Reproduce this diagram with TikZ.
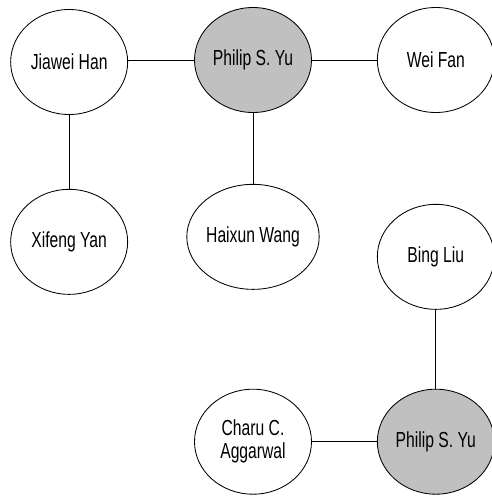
\documentclass[tikz,border=0pt]{standalone}
\usepackage{fontspec}
\setmainfont{Liberation Sans}
\newfontfamily\narrowfont[FakeStretch=0.72]{Liberation Sans}
\usepackage{tikz}
\usetikzlibrary{positioning, shapes.geometric}

\definecolor{hubgray}{RGB}{192,192,192}

\begin{document}
\begin{tikzpicture}[
    author/.style={ellipse, draw, line width=0.6pt, inner sep=0pt,
        minimum width=2.925cm, minimum height=2.625cm, align=center,
        font=\narrowfont\fontsize{15.5}{16.5}\selectfont},
    hub/.style={author, fill=hubgray},
    link/.style={line width=0.6pt},
    node distance=1.65cm and 1.65cm
]

\useasboundingbox (-6.325,1.5) rectangle (5.975,-10.9);

% --- Upper group ---
\node[hub] (yu1) {Philip S. Yu};
\node[author, left=1.65cm of yu1, yshift=-0.05cm] (han) {Jiawei Han};
\node[author, right=1.625cm of yu1] (fan) {Wei Fan};
\node[author, below=1.775cm of yu1] (wang) {Haixun Wang};
\node[author, below=1.85cm of han] (yan) {Xifeng Yan};

% --- Lower group ---
\node[author, below=2.275cm of fan] (liu) {Bing Liu};
\node[hub, below=1.975cm of liu] (yu2) {Philip S. Yu};
\node[author, left=1.625cm of yu2] (aggarwal) {Charu C.\\Aggarwal};

% --- Edges ---
\draw[link] (han.east |- yu1.west) -- (yu1.west);
\draw[link] (yu1) -- (fan);
\draw[link] (yu1) -- (wang);
\draw[link] (han) -- (yan);
\draw[link] (liu) -- (yu2);
\draw[link] (aggarwal) -- (yu2);

\end{tikzpicture}
\end{document}
